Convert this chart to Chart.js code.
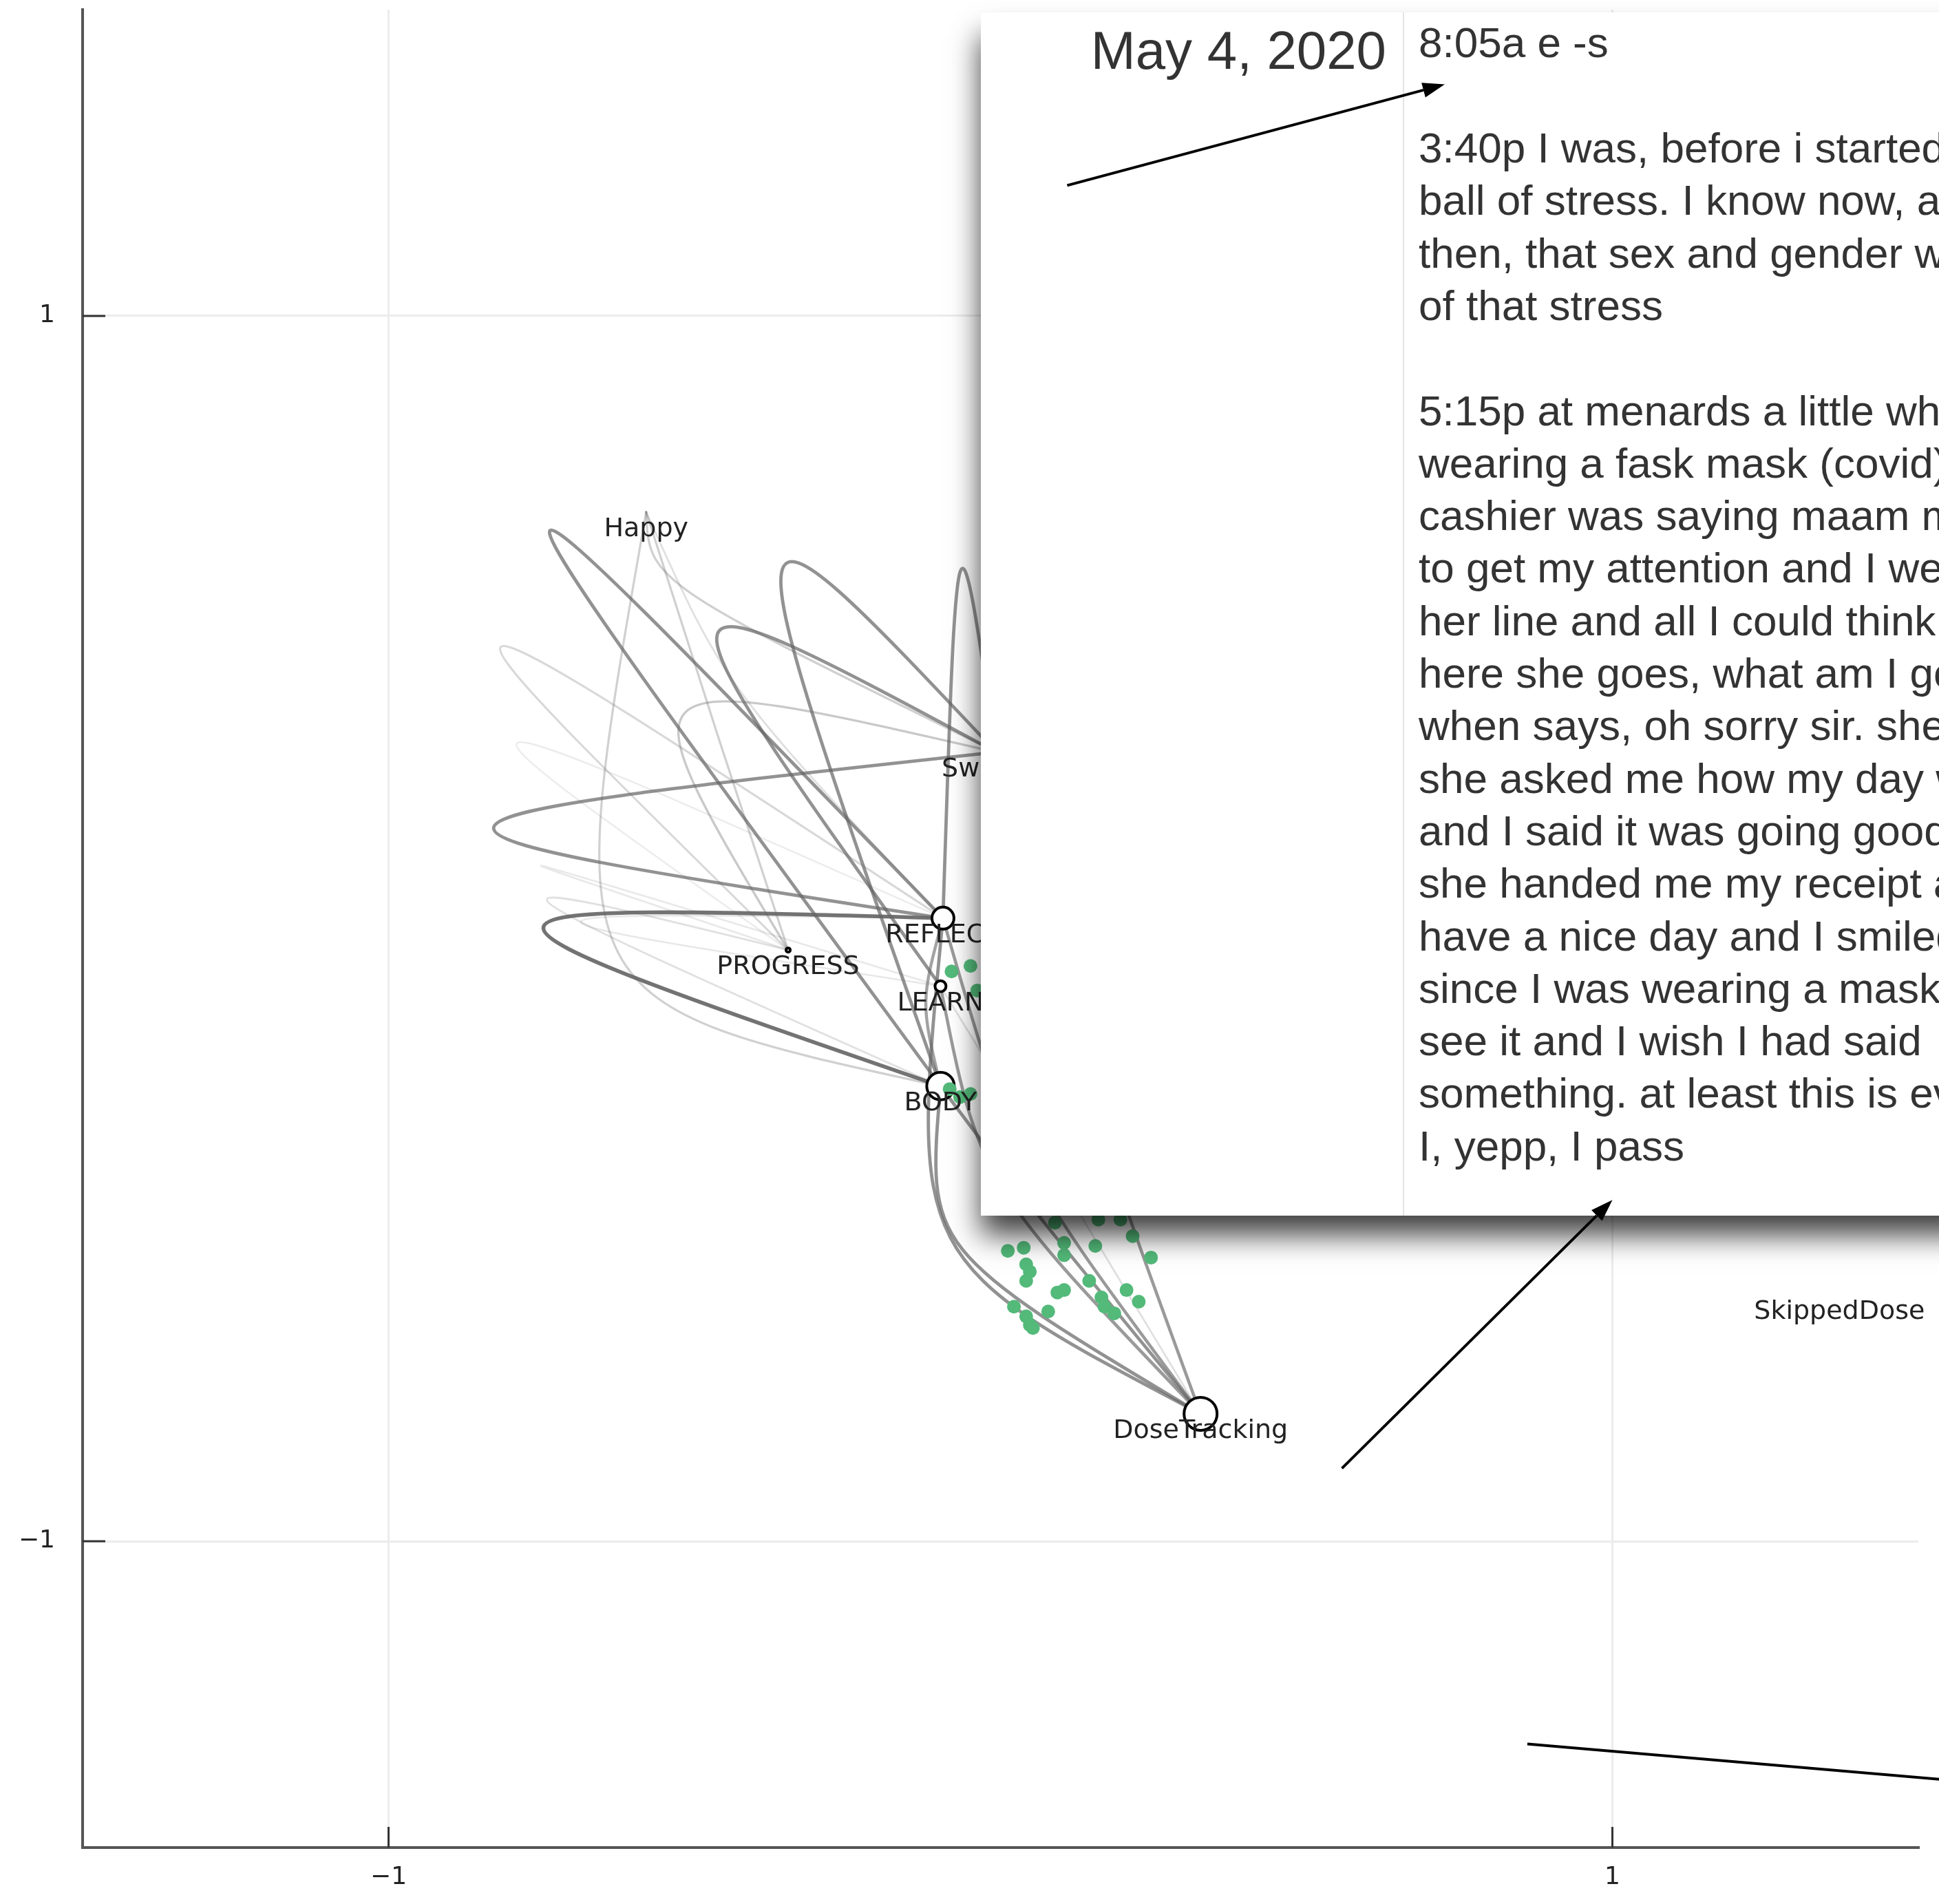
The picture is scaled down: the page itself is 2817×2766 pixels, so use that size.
<!DOCTYPE html>
<html>
<head>
<meta charset="utf-8">
<script src="https://cdn.jsdelivr.net/npm/chart.js@4.4.1/dist/chart.umd.min.js"></script>
<style>
  html, body { margin: 0; padding: 0; background: #fff; }
  canvas { display: block; }
</style>
</head>
<body>
<canvas id="tagGraph" width="2817" height="2766" style="width:2817px;height:2766px"></canvas>
<script>
// axis ticks
const xTicks = [-1, 1];
const yTicks = [-1, 1];

// tag nodes (layout coordinates)
const nodeNames = ['Happy', 'Swelling', 'REFLECT', 'PROGRESS', 'LEARN', 'BODY', 'DoseTracking', 'SkippedDose'];
const nodeX = [-0.579, -0.007, -0.094, -0.347, -0.098, -0.098, 0.327, 1.371];
const nodeY = [0.680, 0.288, 0.017, -0.035, -0.094, -0.257, -0.792, -0.598];
const nodeSize = [0, 9, 8, 1.5, 4, 10, 12, 0];

// transitions between tags: from, to, bend point, weight
const edgeFrom = [2, 1, 5, 4, 2, 5, 0, 0, 0, 3, 1, 2, 3, 3, 2, 2, 5, 4, 2, 5, 1, 4, 2, 0];
const edgeTo = [5, 2, 1, 1, 1, 2, 5, 3, 1, 2, 3, 3, 4, 5, 4, 6, 6, 6, 6, 6, 6, 6, 5, 2];
const edgeBendX = [-0.747, -0.828, -0.358, -0.463, -0.066, -0.737, -0.625, -0.463, -0.504, -0.814, -0.514, -0.787,
  -0.747, -0.737, -0.686, -0.082, -0.062, 0.003, 0.044, 0.074, 0.155, 0.104, -0.122, -0.422];
const edgeBendY = [0.001, 0.166, 0.580, 0.479, 0.582, 0.647, -0.039, 0.318, 0.546, 0.461, 0.354, 0.304,
  0.102, 0.041, 0.011, -0.504, -0.524, -0.423, -0.382, -0.483, -0.302, -0.423, -0.120, 0.383];
const edgeWeight = [0.9, 0.7, 0.7, 0.7, 0.7, 0.7, 0.3, 0.3, 0.3, 0.25, 0.35, 0.12,
  0.15, 0.2, 0.15, 0.7, 0.7, 0.65, 0.65, 0.7, 0.65, 0.2, 0.6, 0.2];

// journal entries
const entryX = [-0.080, -0.049, -0.038, -0.083, -0.066, -0.049,
  0.089, 0.160, 0.196, 0.216, 0.246, 0.155, 0.104, 0.104, 0.038, 0.012, 0.042, 0.048, 0.042,
  0.093, 0.104, 0.145, 0.165, 0.170, 0.186, 0.206, 0.226, 0.022, 0.042, 0.048, 0.053, 0.078];
const entryY = [-0.070, -0.061, -0.101, -0.262, -0.275, -0.270,
  -0.480, -0.475, -0.475, -0.502, -0.537, -0.518, -0.513, -0.533, -0.521, -0.526, -0.548, -0.560, -0.575,
  -0.594, -0.590, -0.575, -0.602, -0.617, -0.628, -0.590, -0.609, -0.617, -0.633, -0.647, -0.652, -0.625];

// pointer arrows
const arrowX0 = [0.109, 0.558, 0.861];
const arrowY0 = [1.213, -0.881, -1.331];
const arrowX1 = [0.726, 1.0, 1.75];
const arrowY1 = [1.378, -0.443, -1.407];

// note panel
const noteDate = 'May 4, 2020';
const noteLines = [
  '8:05a e -s',
  '',
  '3:40p I was, before i started',
  'ball of stress. I know now, and',
  'then, that sex and gender were',
  'of that stress',
  '',
  '5:15p at menards a little while',
  'wearing a fask mask (covid)',
  'cashier was saying maam maam',
  'to get my attention and I went',
  'her line and all I could think',
  'here she goes, what am I going',
  'when says, oh sorry sir. she',
  'she asked me how my day was',
  'and I said it was going good',
  'she handed me my receipt and',
  'have a nice day and I smiled',
  'since I was wearing a mask',
  'see it and I wish I had said',
  'something. at least this is even',
  'I, yepp, I pass'
];

Chart.defaults.font.family = "'DejaVu Sans', sans-serif";

const fmtTick = v => (v < 0 ? '\u2212' + Math.abs(v) : String(v));

const toPx = (chart, x, y) => [chart.scales.x.getPixelForValue(x), chart.scales.y.getPixelForValue(y)];

const graphPlugin = {
  id: 'graphOverlay',
  beforeDatasetsDraw(chart) {
    const { ctx, chartArea: a } = chart;
    ctx.save();
    ctx.beginPath();
    ctx.rect(a.left, a.top, a.right - a.left, a.bottom - a.top);
    ctx.clip();
    ctx.lineCap = 'round';
    edgeFrom.forEach((f, i) => {
      const t = edgeTo[i];
      const [ax, ay] = toPx(chart, nodeX[f], nodeY[f]);
      const [bx, by] = toPx(chart, nodeX[t], nodeY[t]);
      const [tx, ty] = toPx(chart, edgeBendX[i], edgeBendY[i]);
      const cx = (tx - 0.125 * (ax + bx)) / 0.75;
      const cy = (ty - 0.125 * (ay + by)) / 0.75;
      const w = edgeWeight[i];
      ctx.strokeStyle = `rgba(100,100,100,${w})`;
      ctx.lineWidth = 2 + 4 * w;
      ctx.beginPath();
      ctx.moveTo(ax, ay);
      ctx.bezierCurveTo(cx, cy, cx, cy, bx, by);
      ctx.stroke();
    });
    ctx.restore();

    // inward tick marks
    ctx.save();
    ctx.strokeStyle = '#333';
    ctx.lineWidth = 3;
    xTicks.forEach(v => {
      const p = chart.scales.x.getPixelForValue(v);
      ctx.beginPath(); ctx.moveTo(p, a.bottom); ctx.lineTo(p, a.bottom - 30); ctx.stroke();
    });
    yTicks.forEach(v => {
      const p = chart.scales.y.getPixelForValue(v);
      ctx.beginPath(); ctx.moveTo(a.left, p); ctx.lineTo(a.left + 33, p); ctx.stroke();
    });
    ctx.restore();
  },
  afterDatasetsDraw(chart) {
    const { ctx } = chart;
    // tag labels
    ctx.save();
    ctx.font = "38px 'DejaVu Sans'";
    ctx.fillStyle = '#222';
    ctx.textAlign = 'center';
    ctx.textBaseline = 'middle';
    nodeNames.forEach((n, i) => {
      const [x, y] = toPx(chart, nodeX[i], nodeY[i]);
      ctx.fillText(n, x, y + 25);
    });
    ctx.restore();

    // note panel with shadow
    const boxL = 1425, boxT = 18, boxB = 1766, boxR = 3000;
    ctx.save();
    ctx.shadowColor = 'rgba(0,0,0,0.75)';
    ctx.shadowBlur = 40;
    ctx.shadowOffsetY = 28;
    ctx.fillStyle = '#fff';
    ctx.fillRect(boxL, boxT + 6, boxR - boxL, boxB - boxT - 6);
    ctx.restore();
    ctx.fillStyle = '#fff';
    ctx.fillRect(boxL, boxT, boxR - boxL, boxB - boxT);
    ctx.fillStyle = '#e4e4e4';
    ctx.fillRect(2038, boxT, 2, boxB - boxT);

    ctx.save();
    ctx.fillStyle = '#333';
    ctx.textBaseline = 'alphabetic';
    ctx.font = "78px 'Liberation Sans'";
    ctx.textAlign = 'right';
    ctx.fillText(noteDate, 2014, 100);
    ctx.font = "62px 'Liberation Sans'";
    ctx.textAlign = 'left';
    ctx.fillText(noteLines[0], 2061, 83);
    noteLines.slice(2).forEach((line, i) => {
      ctx.fillText(line, 2061, 236 + i * 76.3);
    });
    ctx.restore();

    // arrows on top
    ctx.save();
    ctx.strokeStyle = '#000';
    ctx.fillStyle = '#000';
    ctx.lineWidth = 4;
    arrowX0.forEach((x0, i) => {
      const [sx, sy] = toPx(chart, x0, arrowY0[i]);
      const [ex, ey] = toPx(chart, arrowX1[i], arrowY1[i]);
      const ang = Math.atan2(ey - sy, ex - sx);
      const hl = 32, hw = 11;
      const bx = ex - hl * Math.cos(ang), by = ey - hl * Math.sin(ang);
      ctx.beginPath(); ctx.moveTo(sx, sy); ctx.lineTo(bx, by); ctx.stroke();
      ctx.beginPath();
      ctx.moveTo(ex, ey);
      ctx.lineTo(bx + hw * Math.sin(ang), by - hw * Math.cos(ang));
      ctx.lineTo(bx - hw * Math.sin(ang), by + hw * Math.cos(ang));
      ctx.closePath();
      ctx.fill();
    });
    ctx.restore();
  }
};

const axisCommon = {
  min: -1.5,
  max: 1.5,
  grid: { color: '#ececec', lineWidth: 3, drawTicks: false },
  border: { color: '#555', width: 4 },
  ticks: { font: { size: 36 }, color: '#222', callback: fmtTick }
};

const ctx = document.getElementById('tagGraph').getContext('2d');
const chart = new Chart(ctx, {
  type: 'scatter',
  data: {
    datasets: [
      {
        label: 'entries',
        data: entryX.map((x, i) => ({ x, y: entryY[i] })),
        backgroundColor: '#53ba7a',
        borderWidth: 0,
        pointRadius: 10
      },
      {
        label: 'tags',
        data: nodeX.map((x, i) => ({ x, y: nodeY[i] })),
        backgroundColor: '#fff',
        borderColor: '#000',
        borderWidth: 4,
        pointRadius: nodeSize.map(s => s * 2)
      }
    ]
  },
  options: {
    responsive: false,
    animation: false,
    devicePixelRatio: 1,
    layout: { autoPadding: false, padding: { top: 14, right: 30, left: 0, bottom: 0 } },
    plugins: { legend: { display: false }, tooltip: { enabled: false } },
    scales: {
      x: {
        ...axisCommon,
        ticks: { ...axisCommon.ticks, padding: 22 },
        afterBuildTicks: s => { s.ticks = xTicks.map(v => ({ value: v })); },
        afterFit: s => { s.height = 82; s.paddingLeft = 0; s.paddingRight = 0; }
      },
      y: {
        ...axisCommon,
        ticks: { ...axisCommon.ticks, padding: 40 },
        afterBuildTicks: s => { s.ticks = yTicks.map(v => ({ value: v })); },
        afterFit: s => { s.width = 120; s.paddingTop = 0; s.paddingBottom = 0; }
      }
    }
  },
  plugins: [graphPlugin]
});
</script>
</body>
</html>
